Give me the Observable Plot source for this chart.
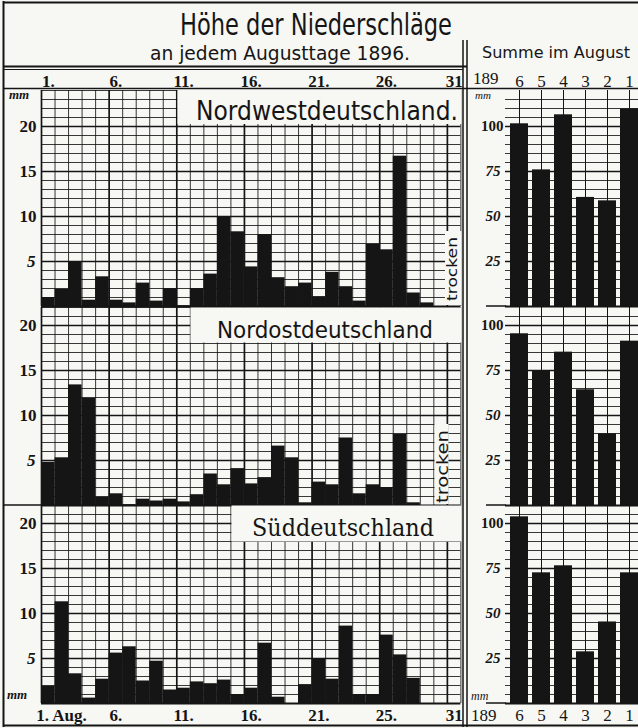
<!DOCTYPE html>
<html>
<head>
<meta charset="utf-8">
<script src="https://cdn.jsdelivr.net/npm/d3@7"></script>
<script src="https://cdn.jsdelivr.net/npm/@observablehq/plot@0.6"></script>
<style>
html,body{margin:0;padding:0;background:#f7f7f4;overflow:hidden}
#fig{position:relative;width:638px;height:728px;overflow:hidden;background:#f7f7f4}
</style>
</head>
<body>
<div id="fig"></div>
<script>
// ---------- data ----------
const days = d3.range(1, 32);
const nordwest = [1.0, 1.9, 5.0, 0.7, 3.3, 0.7, 0.4, 2.6, 0.6, 2.0, 0.1, 2.0, 3.6, 10.0, 8.3, 4.4, 8.0, 3.2, 2.2, 2.6, 1.1, 3.8, 2.2, 0.6, 6.9, 6.3, 16.7, 1.5, 0.4, 0, 0];
const nordost  = [4.8, 5.3, 13.4, 11.9, 0.9, 1.3, 0.1, 0.7, 0.5, 0.7, 0.4, 1.2, 3.5, 2.3, 4.1, 2.4, 3.1, 6.6, 5.3, 0.3, 2.6, 2.3, 7.5, 1.3, 2.3, 2.0, 7.9, 0.3, 0, 0, 0];
const sued     = [1.9, 11.3, 3.3, 0.6, 2.7, 5.6, 6.3, 2.5, 4.7, 1.5, 1.7, 2.4, 2.2, 2.6, 1.0, 1.7, 6.7, 0.7, 0, 2.1, 4.9, 2.7, 8.6, 1.0, 1.0, 7.6, 5.4, 2.8, 0, 0, 0];

const years = ["1896", "1895", "1894", "1893", "1892", "1891"];
const summeNordwest = [101.5, 75.9, 106.5, 60.6, 58.7, 109.8];
const summeNordost  = [95.4, 75.0, 85.2, 64.3, 39.8, 91.3];
const summeSued     = [103.7, 72.6, 76.5, 28.7, 45.3, 72.6];

const dayTicks = [1, 6, 11, 16, 21, 26, 31];
const dayLabelsTop = ["1.", "6.", "11.", "16.", "21.", "26.", "31"];
const dayLabelsBottom = ["1. Aug.", "6.", "11.", "16.", "21.", "25.", "31"];
const mmTicks = [5, 10, 15, 20];
const sumTicks = [25, 50, 75, 100];
const yearDigits = ["6", "5", "4", "3", "2", "1"];

// ---------- styling ----------
const ink = "#151515";
const paper = "#f7f7f4";
const numFont = "'Liberation Serif', 'DejaVu Serif', serif";
const handFont = "'DejaVu Sans', sans-serif";
const MM = 9;      // px per mm (daily panels)
const SUM = 1.8;   // px per mm (monthly sums)
const fig = document.getElementById("fig");

function place(svg, left, top) {
  svg.style.position = "absolute";
  svg.style.left = left + "px";
  svg.style.top = top + "px";
  svg.style.maxWidth = "none";
  fig.appendChild(svg);
}

function dayPanel(values, {ymax, top, marginTop, marginBottom, extra = []}) {
  const rows = days.map((d, i) => ({day: d, mm: values[i]}));
  const bounds = d3.range(1, 33);
  const svg = Plot.plot({
    width: 470, height: marginTop + ymax * MM + marginBottom,
    marginLeft: 41, marginRight: 9.6, marginTop, marginBottom,
    x: {domain: [1, 32], axis: null, label: null},
    y: {domain: [0, ymax], axis: null, label: null},
    style: {background: "transparent", fontFamily: numFont, color: ink, overflow: "visible"},
    marks: [
      Plot.ruleY(d3.range(1, ymax + 1).filter(v => v % 5), {stroke: ink, strokeWidth: 0.85}),
      Plot.ruleX(bounds.filter(v => (v - 1) % 5), {stroke: ink, strokeWidth: 0.85}),
      Plot.ruleY(d3.range(5, ymax + 1, 5), {stroke: ink, strokeWidth: 1.7}),
      Plot.ruleX(bounds.filter(v => (v - 1) % 5 === 0), {stroke: ink, strokeWidth: 1.7}),
      Plot.rectY(rows, {x1: "day", x2: d => d.day + 1, y: "mm", fill: ink}),
      Plot.ruleY([0], {stroke: ink, strokeWidth: 2}),
      Plot.axisY(mmTicks.filter(v => v !== 5), {tickSize: 0, tickPadding: 5, fontSize: 17, fontWeight: "bold", label: null}),
      Plot.axisY([5], {tickSize: 0, tickPadding: 6, fontSize: 17, fontWeight: "bold", fontStyle: "italic", label: null}),
      ...extra
    ]
  });
  place(svg, 0, top);
}

function sumPanel(values, {ymax, top, marginTop, marginBottom, extra = []}) {
  const rows = years.map((y, i) => ({year: y, mm: values[i]}));
  const svg = Plot.plot({
    width: 172, height: marginTop + ymax * SUM + marginBottom,
    marginLeft: 35, marginRight: 0, marginTop, marginBottom,
    x: {type: "band", domain: years, paddingInner: 0.2, paddingOuter: 0.1, axis: null, label: null},
    y: {domain: [0, ymax], axis: null, label: null},
    style: {background: "transparent", fontFamily: numFont, color: ink, overflow: "visible"},
    marks: [
      Plot.ruleY(d3.range(5, ymax, 5).filter(v => v % 25), {stroke: ink, strokeWidth: 0.85}),
      Plot.ruleY(sumTicks, {stroke: ink, strokeWidth: 1.5}),
      Plot.ruleX(years, {stroke: ink, strokeWidth: 1}),
      Plot.barY(rows, {x: "year", y: "mm", fill: ink}),
      Plot.ruleY([0], {stroke: ink, strokeWidth: 2}),
      Plot.axisY([100], {tickSize: 0, tickPadding: 2, fontSize: 15, fontWeight: "bold", label: null}),
      Plot.axisY(sumTicks.filter(v => v !== 100), {tickSize: 0, tickPadding: 5, fontSize: 15, fontWeight: "bold", fontStyle: "italic", label: null}),
      ...extra
    ]
  });
  place(svg, 470, top);
}

// ---------- daily panels ----------
dayPanel(nordwest, {ymax: 24, top: 66, marginTop: 24, marginBottom: 2, extra: [
  Plot.axisX(dayTicks.map(d => d + 0.5), {anchor: "top", tickSize: 0, tickPadding: 4, fontSize: 17, fontWeight: "bold",
    tickFormat: v => dayLabelsTop[dayTicks.indexOf(v - 0.5)], label: null})
]});
dayPanel(nordost, {ymax: 22, top: 305, marginTop: 2, marginBottom: 2});
dayPanel(sued, {ymax: 22, top: 503, marginTop: 2, marginBottom: 24, extra: [
  Plot.axisX(dayTicks.slice(1).map(d => d + 0.5), {anchor: "bottom", tickSize: 0, tickPadding: 5, fontSize: 17, fontWeight: "bold",
    tickFormat: v => dayLabelsBottom[dayTicks.indexOf(v - 0.5)], label: null}),
  Plot.text([{day: dayTicks[0], label: dayLabelsBottom[0]}], {x: d => d.day + 0.5, text: "label", frameAnchor: "bottom",
    lineAnchor: "top", textAnchor: "start", dx: -12, dy: 5, fontSize: 17, fontWeight: "bold"})
]});

// ---------- monthly sums ----------
sumPanel(summeNordwest, {ymax: 120, top: 66, marginTop: 24, marginBottom: 2, extra: [
  Plot.axisX(years, {anchor: "top", tickSize: 0, tickPadding: 4, fontSize: 17, tickFormat: v => yearDigits[years.indexOf(v)], label: null})
]});
sumPanel(summeNordost, {ymax: 110, top: 305, marginTop: 2, marginBottom: 2});
sumPanel(summeSued, {ymax: 110, top: 503, marginTop: 2, marginBottom: 24, extra: [
  Plot.axisX(years, {anchor: "bottom", tickSize: 0, tickPadding: 5, fontSize: 17, tickFormat: v => yearDigits[years.indexOf(v)], label: null})
]});

// ---------- frame, title boxes and lettering ----------
const ov = d3.select(fig).append("svg")
  .attr("width", 638).attr("height", 728)
  .style("position", "absolute").style("left", "0px").style("top", "0px");

function box(x, y, w, h) { ov.append("rect").attr("x", x).attr("y", y).attr("width", w).attr("height", h).attr("fill", paper); }
function line(x1, y1, x2, y2, w = 1.5) { ov.append("line").attr("x1", x1).attr("y1", y1).attr("x2", x2).attr("y2", y2).attr("stroke", ink).attr("stroke-width", w); }
function label(t, x, y, size, opts = {}) {
  const e = ov.append("text").attr("x", x).attr("y", y).text(t)
    .attr("font-family", opts.font || handFont).attr("font-size", size).attr("fill", ink)
    .attr("text-anchor", opts.anchor || "start");
  if (opts.len) e.attr("textLength", opts.len).attr("lengthAdjust", "spacingAndGlyphs");
  if (opts.weight) e.attr("font-weight", opts.weight);
  if (opts.style) e.attr("font-style", opts.style);
  if (opts.rotate) e.attr("transform", `rotate(${opts.rotate},${x},${y})`);
  return e;
}

// panel title boxes (blank the grid behind the lettering)
box(177.5, 89.5, 284, 34.5);
box(190.5, 307.5, 271, 35);
box(231.5, 505.5, 230, 36);
// "trocken" boxes
box(445, 231, 16.5, 74);
box(434.5, 424, 14, 80);

// outer frame and rules
line(3.5, 1, 3.5, 727, 2);
line(3, 2.5, 638, 2.5, 2);
line(3, 725.5, 638, 725.5, 2);
line(3, 66.5, 467, 66.5, 1.8);
line(3, 69.5, 463, 69.5, 1);
line(3, 88.5, 638, 88.5, 1.6);
line(463, 40, 463, 727, 1.5);
line(467, 40, 467, 727, 1.5);
line(3, 505, 41, 505, 1.5);
line(486, 306, 506, 306, 1.5);
line(486, 505, 506, 505, 1.5);
line(486, 703, 506, 703, 1.5);

// titles
label("Höhe der Niederschläge", 180, 35, 30, {len: 272});
label("an jedem Augusttage 1896.", 150, 60, 19, {len: 260});
label("Summe im August", 482, 58, 16, {len: 148});
label("Nordwestdeutschland.", 196, 120, 26, {len: 262});
label("Nordostdeutschland", 217, 338, 23, {len: 216});
label("Süddeutschland", 252, 536, 24, {len: 182, font: "'DejaVu Serif', serif"});
label("trocken", 457, 301, 14, {len: 64, rotate: -90});
label("trocken", 448, 503, 15, {len: 73, rotate: -90});

// units and year prefix
label("mm", 9, 99, 13, {font: numFont, style: "italic", weight: "bold"});
label("mm", 7, 699, 13, {font: numFont, style: "italic", weight: "bold"});
label("mm", 475, 99, 11, {font: numFont, style: "italic"});
label("mm", 471, 700, 12, {font: numFont, style: "italic"});
label("189", 473, 84, 17, {font: numFont});
label("189", 471, 721, 17, {font: numFont});
</script>
</body>
</html>
